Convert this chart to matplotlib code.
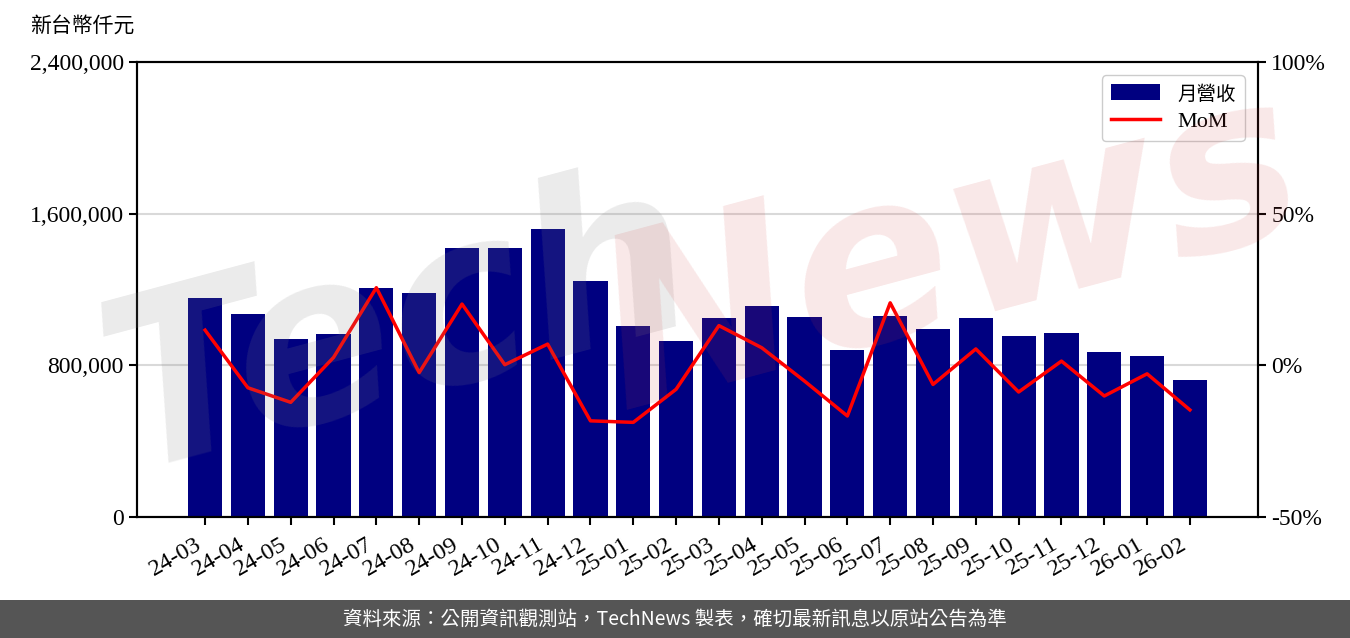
import matplotlib
matplotlib.use("Agg")
import matplotlib.pyplot as plt
from matplotlib.patches import Rectangle
from matplotlib.ticker import FuncFormatter

plt.rcParams['font.family'] = ['Liberation Serif', 'Noto Sans CJK TC', 'DejaVu Sans']

months = ['24-03', '24-04', '24-05', '24-06', '24-07', '24-08', '24-09', '24-10',
          '24-11', '24-12', '25-01', '25-02', '25-03', '25-04', '25-05', '25-06',
          '25-07', '25-08', '25-09', '25-10', '25-11', '25-12', '26-01', '26-02']
revenue = [1155000, 1071000, 939000, 965000, 1208000, 1182000, 1419000, 1419000,
           1519000, 1245000, 1007000, 928000, 1050000, 1113000, 1055000, 881000,
           1060000, 992000, 1050000, 955000, 971000, 870000, 849000, 723000]
mom = [11.6, -7.4, -12.2, 2.6, 25.6, -2.4, 20.2, 0.2,
       7.0, -18.3, -18.8, -7.9, 13.1, 5.8, -5.2, -16.7,
       20.6, -6.3, 5.4, -8.8, 1.4, -10.1, -2.8, -14.7]

fig = plt.figure(figsize=(13.5, 6.38), dpi=100)
ax = fig.add_axes([137/1350, 1 - 517/638, (1258-137)/1350, (517-62)/638])

x = list(range(len(months)))
bars = ax.bar(x, revenue, width=0.8, color='#000080', zorder=2, label='月營收')
ax.set_ylim(0, 2400000)
ax.set_yticks([0, 800000, 1600000, 2400000])
ax.yaxis.set_major_formatter(FuncFormatter(lambda v, p: f'{int(v):,}'))
ax.set_xlim(-1.59, len(months) - 1 + 1.59)
ax.set_xticks(x)
ax.set_xticklabels(months, rotation=30, ha='right')
ax.grid(axis='y', color='#d9d9d9', linewidth=1.5, zorder=0)
ax.set_axisbelow(True)
ax.tick_params(axis='both', length=6, width=1.5)
ax.tick_params(axis='x', labelsize=17.5, pad=6)
ax.tick_params(axis='y', labelsize=17)

ax2 = ax.twinx()
line, = ax2.plot(x, mom, color='#ff0000', linewidth=2.5, label='MoM', zorder=3)
ax2.set_ylim(-50, 100)
ax2.set_yticks([-50, 0, 50, 100])
ax2.yaxis.set_major_formatter(FuncFormatter(lambda v, p: f'{int(v)}%'))
ax2.tick_params(axis='y', labelsize=17, length=6, width=1.5)

for a in (ax, ax2):
    for s in a.spines.values():
        s.set_linewidth(1.5)

leg = ax2.legend([bars, line], ['月營收', 'MoM'], loc='upper right', fontsize=16,
                 handlelength=2.2, borderaxespad=0.6, labelspacing=0.35,
                 fancybox=True, framealpha=1)
leg.get_frame().set_edgecolor('#cccccc')
leg.get_texts()[0].set_fontsize(14)

fig.text(30/1350, 1 - 27/638, '新台幣仟元', fontsize=15, va='center', ha='left')

# watermark
fig.text(400/1350, 1 - 330/638, 'Tech', fontsize=170, fontweight='bold', style='italic',
         color='#808080', alpha=0.16, rotation=15, ha='center', va='center',
         family='DejaVu Sans', zorder=10)
fig.text(950/1350, 1 - 255/638, 'News', fontsize=170, fontweight='bold', style='italic',
         color='#d23c3c', alpha=0.12, rotation=15, ha='center', va='center',
         family='DejaVu Sans', zorder=10)

# footer
fig.patches.append(Rectangle((0, 0), 1, 38/638, transform=fig.transFigure,
                             facecolor='#555555', edgecolor='none', zorder=0))
fig.text(0.5, 19/638, '資料來源：公開資訊觀測站，TechNews 製表，確切最新訊息以原站公告為準',
         color='white', fontsize=14, ha='center', va='center',
         family=['Noto Sans CJK TC', 'DejaVu Sans'])

fig.savefig('out.png', dpi=100)
